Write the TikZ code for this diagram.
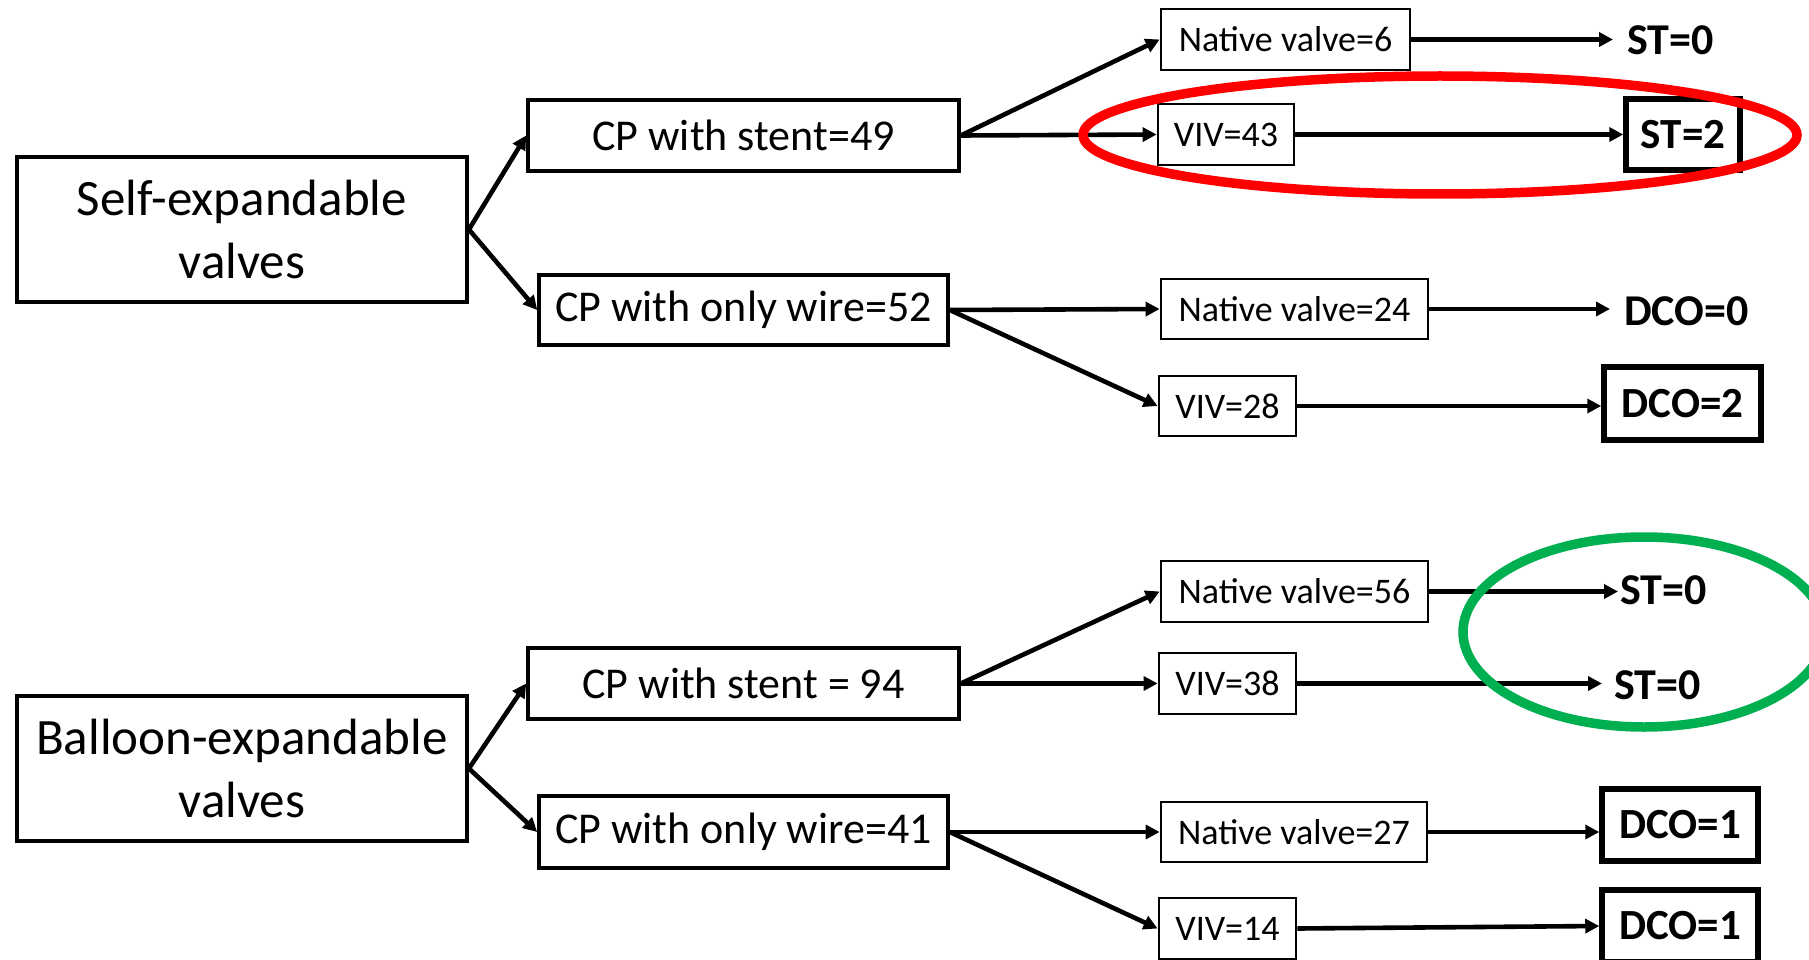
\documentclass[tikz,border=0pt]{standalone}
\usepackage{fontspec}
\setmainfont{Carlito}
\usetikzlibrary{arrows.meta}
\definecolor{offgreen}{HTML}{00B050}
\tikzset{
  bigbox/.style={draw, line width=3.8pt, inner sep=0pt, align=center, font=\fontsize{51}{63}\selectfont},
  midbox/.style={draw, line width=3.6pt, inner sep=0pt, font=\fontsize{44}{50}\selectfont},
  smallbox/.style={draw, line width=2.8pt, inner sep=0pt, font=\fontsize{36}{42}\selectfont},
  resbox/.style={draw, line width=5.5pt, inner sep=0pt, font=\fontsize{43}{50}\selectfont\bfseries},
  restext/.style={inner sep=0pt, font=\fontsize{44}{50}\selectfont\bfseries},
  arr/.style={line width=4.6pt, -{Triangle[length=14pt,width=14pt]}},
  mark ring/.style={line width=9.5pt}
}
\begin{document}
\begin{tikzpicture}[x=1pt,y=-1pt]
\useasboundingbox[fill=white] (0,0) rectangle (1809,960);

% ---------- top half ----------
\node[bigbox, minimum width=450pt, minimum height=145pt] (se) at (242,229.5) {Self-expandable\\valves};
\node[midbox, minimum width=431pt, minimum height=71pt] (cps1) at (743.5,135.5) {CP with stent=49};
\node[midbox, minimum width=409pt, minimum height=70pt] (cpw1) at (743.5,310) {CP with only wire=52};

\node[smallbox, minimum width=249pt, minimum height=61pt] (nv6) at (1285.5,39.5) {Native valve=6};
\node[smallbox, minimum width=136pt, minimum height=61pt] (viv43) at (1226,134.5) {VIV=43};
\node[smallbox, minimum width=267pt, minimum height=60pt] (nv24) at (1294.5,309) {Native valve=24};
\node[smallbox, minimum width=137pt, minimum height=60pt] (viv28) at (1227.5,406) {VIV=28};

\node[restext, anchor=west] (st0a) at (1627,40) {ST=0};
\node[resbox, minimum width=114pt, minimum height=71pt] (st2) at (1683,134.5) {ST=2};
\node[restext, anchor=west] (dco0) at (1624,311) {DCO=0};
\node[resbox, minimum width=157pt, minimum height=73pt] (dco2) at (1682.5,403.5) {DCO=2};

\draw[arr] (se.east) -- (cps1.west);
\draw[arr] (se.east) -- (cpw1.west);
\draw[arr] (cps1.east) -- (nv6.west);
\draw[arr] (cps1.east) -- (viv43.west);
\draw[arr] (cpw1.east) -- (nv24.west);
\draw[arr] (cpw1.east) -- (viv28.west);
\draw[arr] (nv6.east) -- ([xshift=-14pt]nv6.east -| st0a.west);
\draw[arr] (viv43.east) -- (st2.west);
\draw[arr] (nv24.east) -- ([xshift=-14pt]nv24.east -| dco0.west);
\draw[arr] (viv28.east) -- (viv28.east -| dco2.west);

% ---------- bottom half ----------
\node[bigbox, minimum width=450pt, minimum height=145pt] (be) at (242,768.5) {Balloon-expandable\\valves};
\node[midbox, minimum width=431pt, minimum height=71pt] (cps2) at (743.5,683.5) {CP with stent = 94};
\node[midbox, minimum width=409pt, minimum height=72pt] (cpw2) at (743.5,832) {CP with only wire=41};

\node[smallbox, minimum width=267pt, minimum height=61pt] (nv56) at (1294.5,591.5) {Native valve=56};
\node[smallbox, minimum width=137pt, minimum height=61pt] (viv38) at (1227.5,683.5) {VIV=38};
\node[smallbox, minimum width=266pt, minimum height=60pt] (nv27) at (1294,832) {Native valve=27};
\node[smallbox, minimum width=137pt, minimum height=61pt] (viv14) at (1227.5,928.5) {VIV=14};

\node[restext, anchor=west] (st0b) at (1620,590) {ST=0};
\node[restext, anchor=west] (st0c) at (1614,685) {ST=0};
\node[resbox, minimum width=156pt, minimum height=72pt] (dco1a) at (1680,825) {DCO=1};
\node[resbox, minimum width=156pt, minimum height=72pt] (dco1b) at (1680,926) {DCO=1};

\draw[arr] (be.east) -- (cps2.west);
\draw[arr] (be.east) -- (cpw2.west);
\draw[arr] (cps2.east) -- (nv56.west);
\draw[arr] (cps2.east) -- (viv38.west);
\draw[arr] (cpw2.east) -- (nv27.west);
\draw[arr] (cpw2.east) -- (viv14.west);
\draw[arr] (nv56.east) -- ([xshift=-2pt]nv56.east -| st0b.west);
\draw[arr] (viv38.east) -- ([xshift=-12pt]viv38.east -| st0c.west);
\draw[arr] (nv27.east) -- (nv27.east -| dco1a.west);
\draw[arr] (viv14.east) -- (dco1b.west);

% ---------- highlight rings ----------
\draw[mark ring, red] (1440,135) ellipse [x radius=357pt, y radius=59pt];
\draw[mark ring, offgreen] (1644,632) ellipse [x radius=181pt, y radius=95pt];
\end{tikzpicture}
\end{document}
